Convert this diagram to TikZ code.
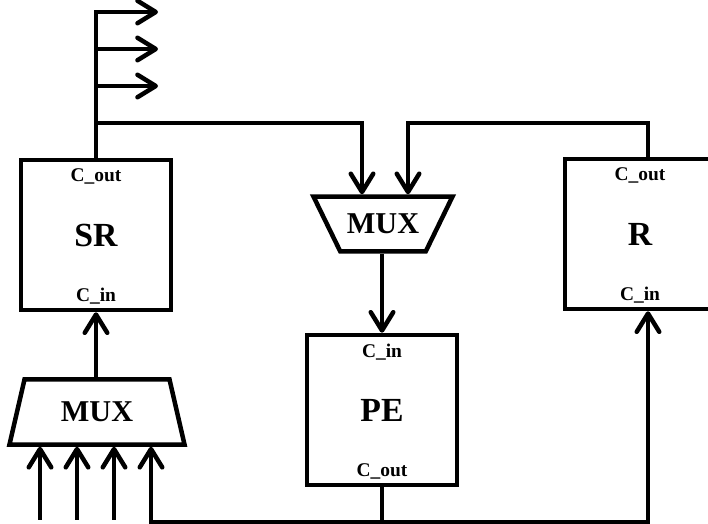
\documentclass[tikz,border=0pt]{standalone}
\usepackage{fontspec}
\setmainfont{Liberation Serif}
\usetikzlibrary{positioning, arrows.meta, calc, shapes.geometric}

\begin{document}
\begin{tikzpicture}[
    x=0.025cm, y=-0.025cm,
    box/.style={rectangle, draw=black, line width=3.2pt, minimum width=3.75cm, minimum height=3.75cm, inner sep=0pt, font=\fontsize{24}{28}\selectfont\bfseries},
    muxtop/.style={trapezium, draw=black, line width=3.2pt, shape border rotate=180, trapezium left angle=64, trapezium right angle=64, trapezium stretches body=true, minimum width=3.475cm, inner xsep=0pt, inner ysep=12.4pt, font=\fontsize{21.5}{24}\selectfont\bfseries},
    muxbot/.style={trapezium, draw=black, line width=3.2pt, trapezium left angle=77, trapezium right angle=77, trapezium stretches body=true, minimum width=4.375cm, inner xsep=0pt, inner ysep=16pt, font=\fontsize{21.5}{24}\selectfont\bfseries},
    clab/.style={inner sep=0pt, font=\fontsize{13.8}{16}\selectfont\bfseries},
    wire/.style={line width=3.2pt},
    arrow/.style={line width=3.2pt, -{Straight Barb[length=13pt, width=16pt, line cap=round, line join=round]}}
]
\useasboundingbox (0,0) rectangle (708,524);

% Blocks
\node[box] (SR) at (96,235) {SR};
\node[box] (R) at (640,234) {R};
\node[box] (PE) at (382,410) {PE};
\node[muxtop] (muxT) at (383,224) {MUX};
\node[muxbot] (muxB) at (97,412) {MUX};

% Port labels
\node[clab] (SRout) at ($(SR.north)+(0,19)$) {C\_out};
\node[clab] (SRin) at ($(SR.south)+(0,-16)$) {C\_in};
\node[clab] (Rout) at ($(R.north)+(0,19)$) {C\_out};
\node[clab] (Rin) at ($(R.south)+(0,-16)$) {C\_in};
\node[clab] (PEin) at ($(PE.north)+(0,19)$) {C\_in};
\node[clab] (PEout) at ($(PE.south)+(0,-16)$) {C\_out};

% Helper points
\coordinate (o1) at (158,12);
\coordinate (o2) at (158,49);
\coordinate (o3) at (158,86);
\coordinate (tapA) at (96,123);
\coordinate (inA) at ($(muxT.north)+(-21,0)$);
\coordinate (inB) at ($(muxT.north)+(25,0)$);
\coordinate (rTop) at ($(R.north)+(8,0)$);
\coordinate (rIn) at ($(R.south)+(8,0)$);
\coordinate (bus) at ($(PE.south)+(0,35)$);
\coordinate (in4) at ($(muxB.south)+(54,0)$);

% Connections
\draw[arrow] (SR.north) |- (o1);
\draw[arrow] (SR.north |- o2) -- (o2);
\draw[arrow] (SR.north |- o3) -- (o3);
\draw[arrow] (tapA) -| (inA);
\draw[arrow] (rTop) |- (inB |- tapA) -- (inB);
\draw[arrow] (PE.north |- muxT.south) -- (PE.north);
\draw[wire] (PE.south) -- (bus);
\draw[arrow] (bus) -| (rIn);
\draw[arrow] (bus) -| (in4);
\draw[arrow] (SR.south |- muxB.north) -- (SR.south);
\foreach \dx in {-57,-20,17}
    \draw[arrow] ($(muxB.south)+(\dx,73)$) -- ($(muxB.south)+(\dx,0)$);
\end{tikzpicture}
\end{document}
